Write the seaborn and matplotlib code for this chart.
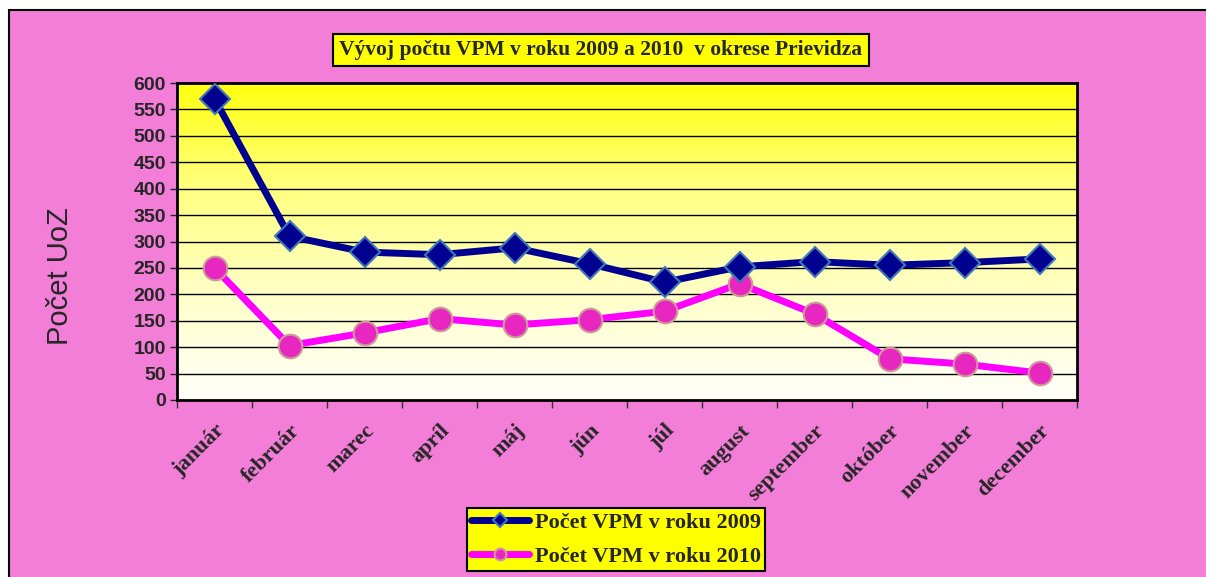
import numpy as np
import pandas as pd
import matplotlib.pyplot as plt
import seaborn as sns
from matplotlib.patches import Rectangle
from matplotlib.colors import LinearSegmentedColormap

# --------------------------------------------------------------
# Data
# --------------------------------------------------------------
months = ["január", "február", "marec", "apríl", "máj", "jún",
          "júl", "august", "september", "október", "november", "december"]
vpm_2009 = [570, 310, 280, 275, 288, 258, 223, 252, 262, 255, 260, 267]
vpm_2010 = [250, 103, 127, 154, 142, 152, 168, 220, 163, 78, 68, 51]
series_names = ["Počet VPM v roku 2009", "Počet VPM v roku 2010"]
y_ticks = list(range(0, 601, 50))
title = "Vývoj počtu VPM v roku 2009 a 2010  v okrese Prievidza"
y_label = "Počet UoZ"

df = pd.DataFrame({
    "pos": list(range(len(months))) * 2,
    "pocet": vpm_2009 + vpm_2010,
    "rok": [series_names[0]] * len(months) + [series_names[1]] * len(months),
})

pink = "#F27ED8"
navy = "#000090"
magenta = "#FF00FF"
serif = "Liberation Serif"
sans = "Liberation Sans"

sns.set_style("white")
W, H = 1206, 577
fig = plt.figure(figsize=(W / 100, H / 100), dpi=100, facecolor="white")

# pink outer frame
fig.add_artist(Rectangle((9 / W, -0.05), 1.1, 1 - 10 / H + 0.05,
                         transform=fig.transFigure, facecolor=pink,
                         edgecolor="black", lw=1.5, zorder=-5))

ax = fig.add_axes([177 / W, 1 - 400 / H, 900 / W, 317 / H])

# yellow gradient plot background
grad = np.linspace(0, 1, 256).reshape(-1, 1)
cmap = LinearSegmentedColormap.from_list("yel", ["#FFFFFA", "#FFFFC8", "#FFFF80", "#FFFF10"])
ax.imshow(grad, extent=[-0.5, len(months) - 0.5, 0, 600], origin="lower",
          aspect="auto", cmap=cmap, zorder=0)

# lines
d09 = df[df["rok"] == series_names[0]]
d10 = df[df["rok"] == series_names[1]]
sns.lineplot(data=d09, x="pos", y="pocet", color=navy, lw=5, marker="D",
             markersize=15, markerfacecolor=navy, markeredgecolor="#3F78B8",
             markeredgewidth=1.5, label=series_names[0], ax=ax, zorder=4)
sns.lineplot(data=d10, x="pos", y="pocet", color=magenta, lw=5, marker="o",
             markersize=17, markerfacecolor="#E826C0", markeredgecolor="#CC9A9A",
             markeredgewidth=1.5, label=series_names[1], ax=ax, zorder=3)

ax.set_xlim(-0.5, len(months) - 0.5)
ax.set_ylim(0, 600)
ax.set_xlabel("")
ax.set_ylabel("")

# grid
ax.set_yticks(y_ticks)
ax.set_yticklabels([str(t) for t in y_ticks], fontsize=14, family=sans, weight="bold")
ax.yaxis.grid(True, color="black", lw=1)
ax.set_axisbelow(True)
for s in ax.spines.values():
    s.set_color("black")
    s.set_linewidth(2)

# x ticks at category boundaries, labels at centres
ax.set_xticks(np.arange(-0.5, len(months), 1))
ax.set_xticklabels([])
ax.set_xticks(np.arange(len(months)), minor=True)
ax.set_xticklabels(months, minor=True, rotation=45, ha="right",
                   rotation_mode="anchor", family=serif, weight="bold", fontsize=16)
ax.tick_params(axis="x", which="major", direction="out", length=6, width=1, color="#333333", bottom=True)
ax.tick_params(axis="x", which="minor", length=0, pad=15)
ax.tick_params(axis="y", direction="out", length=5, width=1, left=True, pad=3)

# y label
fig.text(60 / W, 1 - 276 / H, y_label, rotation=90, ha="center", va="center",
         family=sans, fontsize=21)

# title box
fig.text(601 / W, 1 - 50 / H, title, ha="center", va="center",
         family=serif, weight="bold", fontsize=15.5,
         bbox=dict(boxstyle="square,pad=0.3", facecolor="#FFFF00",
                   edgecolor="black", lw=1.5))

# legend
ax.get_legend().remove()
handles, labels = ax.get_legend_handles_labels()
leg = fig.legend(handles, labels, loc="upper left",
                 bbox_to_anchor=(467 / W, 1 - 508 / H), bbox_transform=fig.transFigure,
                 prop={"family": serif, "weight": "bold", "size": 16},
                 frameon=True, fancybox=False, framealpha=1, facecolor="#FFFF00",
                 edgecolor="black", markerscale=0.5, handlelength=2.6,
                 handletextpad=0.25, borderpad=0.2, labelspacing=0.6,
                 borderaxespad=0)
leg.get_frame().set_linewidth(1.5)

plt.savefig("out.png", dpi=100, facecolor=fig.get_facecolor())
